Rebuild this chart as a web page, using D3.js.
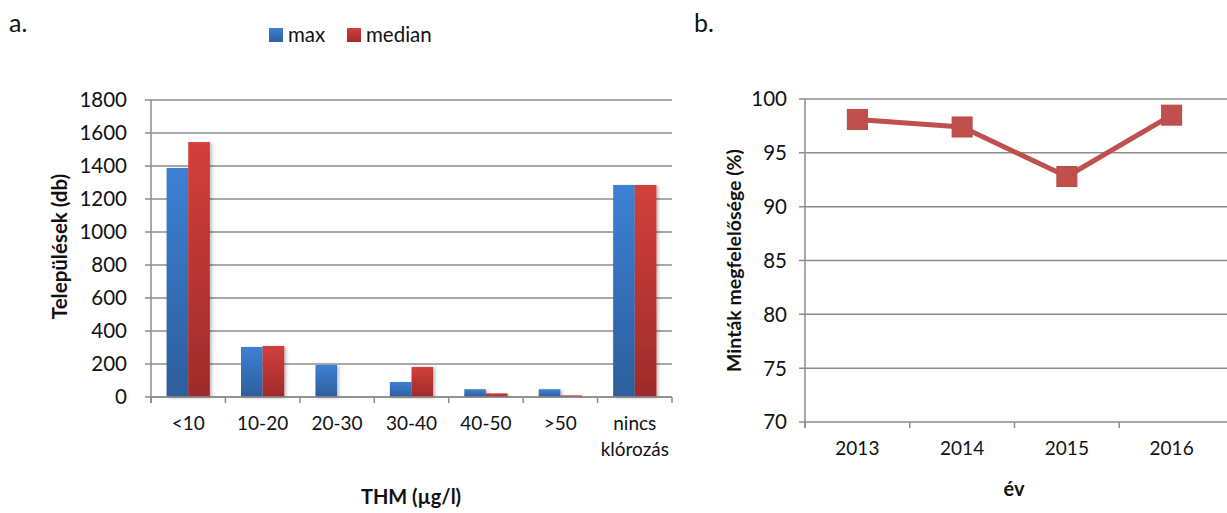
<!DOCTYPE html>
<html>
<head>
<meta charset="utf-8">
<script src="https://cdn.jsdelivr.net/npm/d3@7"></script>
<style>
  html, body { margin: 0; padding: 0; background: #fff; }
  svg { display: block; font-family: Lato, "Open Sans", sans-serif; }
</style>
</head>
<body>
<svg id="chart" width="1227" height="513"></svg>
<script>
// Panel a: settlements by THM concentration class
const thmCategories = ["<10", "10-20", "20-30", "30-40", "40-50", ">50", "nincs klórozás"];
const maxValues     = [1388, 303, 194, 91, 47, 47, 1285];
const medianValues  = [1545, 309, 0, 182, 22, 10, 1285];
const seriesNames   = ["max", "median"];
const countTicks    = [0, 200, 400, 600, 800, 1000, 1200, 1400, 1600, 1800];

// Panel b: sample compliance by year
const years        = ["2013", "2014", "2015", "2016"];
const compliance   = [98.1, 97.4, 92.8, 98.5];
const percentTicks = [70, 75, 80, 85, 90, 95, 100];

const svg = d3.select("#chart");
const gridColor = "#8c8c8c";
const textColor = "#111";

const defs = svg.append("defs");
function vGrad(id, top, bottom) {
  const g = defs.append("linearGradient").attr("id", id)
    .attr("x1", 0).attr("y1", 0).attr("x2", 0).attr("y2", 1);
  g.append("stop").attr("offset", "0%").attr("stop-color", top);
  g.append("stop").attr("offset", "100%").attr("stop-color", bottom);
}
vGrad("gradMax", "#3d80d4", "#2d5e9c");
vGrad("gradMedian", "#d23f3c", "#9e2b2a");
const shadow = defs.append("filter").attr("id", "barShadow")
  .attr("x", "-20%").attr("y", "-5%").attr("width", "150%").attr("height", "115%");
shadow.append("feDropShadow").attr("dx", 2).attr("dy", 1).attr("stdDeviation", 1.5)
  .attr("flood-color", "#000").attr("flood-opacity", 0.25);

// ---------- Panel a ----------
const a = { left: 151, right: 672, top: 100, bottom: 397 };
const xA = d3.scaleBand().domain(thmCategories).range([a.left, a.right]);
const xInner = d3.scaleBand().domain(seriesNames)
  .range([0, xA.bandwidth()]).paddingOuter(0.72).paddingInner(0);
const yA = d3.scaleLinear().domain([0, 1800]).range([a.bottom, a.top]);

const gA = svg.append("g");
// gridlines
gA.append("g").selectAll("line").data(countTicks).join("line")
  .attr("x1", a.left - 6).attr("x2", a.right)
  .attr("y1", d => yA(d)).attr("y2", d => yA(d))
  .attr("stroke", gridColor).attr("stroke-width", 1.5);

// y axis labels
gA.append("g").selectAll("text").data(countTicks).join("text")
  .attr("x", a.left - 24).attr("y", d => yA(d))
  .attr("dy", "0.36em").attr("text-anchor", "end")
  .attr("font-size", 20.5).attr("fill", textColor)
  .text(d => d);

// bars
const barData = thmCategories.flatMap((c, i) => [
  { cat: c, key: "max", value: maxValues[i] },
  { cat: c, key: "median", value: medianValues[i] }
]).filter(d => d.value > 0);
gA.append("g").selectAll("rect").data(barData).join("rect")
  .attr("x", d => xA(d.cat) + xInner(d.key))
  .attr("width", xInner.bandwidth())
  .attr("y", d => yA(d.value))
  .attr("height", d => yA(0) - yA(d.value))
  .attr("fill", d => d.key === "max" ? "url(#gradMax)" : "url(#gradMedian)")
  .attr("filter", "url(#barShadow)");

// axis lines and ticks
gA.append("line").attr("x1", a.left).attr("x2", a.left)
  .attr("y1", a.top).attr("y2", a.bottom + 6)
  .attr("stroke", gridColor).attr("stroke-width", 1.5);
gA.append("line").attr("x1", a.left).attr("x2", a.right)
  .attr("y1", a.bottom).attr("y2", a.bottom)
  .attr("stroke", gridColor).attr("stroke-width", 1.5);
const bandEdgesA = thmCategories.map(c => xA(c)).concat([a.right]);
gA.append("g").selectAll("line").data(bandEdgesA).join("line")
  .attr("x1", d => d).attr("x2", d => d)
  .attr("y1", a.bottom).attr("y2", a.bottom + 6)
  .attr("stroke", gridColor).attr("stroke-width", 1.5);

// category labels (wrapped)
gA.append("g").selectAll("text").data(thmCategories).join("text")
  .attr("x", d => xA(d) + xA.bandwidth() / 2)
  .attr("y", 430)
  .attr("text-anchor", "middle").attr("font-size", 19).attr("fill", textColor)
  .each(function(d) {
    const words = d.split(" ");
    const t = d3.select(this);
    words.forEach((w, i) => {
      t.append("tspan").attr("x", xA(d) + xA.bandwidth() / 2)
        .attr("dy", i === 0 ? 0 : 26).text(w);
    });
  });

// titles
gA.append("text").attr("transform", `translate(67,${(a.top + a.bottom) / 2 - 2}) rotate(-90)`)
  .attr("text-anchor", "middle").attr("font-size", 20.5).attr("font-weight", "bold")
  .attr("fill", textColor).text("Települések (db)");
gA.append("text").attr("x", 411).attr("y", 504)
  .attr("text-anchor", "middle").attr("font-size", 20).attr("font-weight", "bold")
  .attr("fill", textColor).text("THM (µg/l)");
svg.append("text").attr("x", 9).attr("y", 32).attr("font-size", 25)
  .attr("fill", textColor).text("a.");

// legend
const legend = svg.append("g");
const legendItems = [
  { name: seriesNames[0], fill: "url(#gradMax)", x: 269 },
  { name: seriesNames[1], fill: "url(#gradMedian)", x: 347 }
];
legend.selectAll("rect").data(legendItems).join("rect")
  .attr("x", d => d.x).attr("y", 28).attr("width", 14).attr("height", 14)
  .attr("fill", d => d.fill);
legend.selectAll("text").data(legendItems).join("text")
  .attr("x", d => d.x + 19).attr("y", 42)
  .attr("font-size", 20.5).attr("fill", textColor).text(d => d.name);

// ---------- Panel b ----------
const b = { left: 805, right: 1224, top: 99, bottom: 422 };
const xB = d3.scaleBand().domain(years).range([b.left, b.right]);
const yB = d3.scaleLinear().domain([70, 100]).range([b.bottom, b.top]);
const gB = svg.append("g");

gB.append("g").selectAll("line").data(percentTicks).join("line")
  .attr("x1", b.left - 6).attr("x2", 1227)
  .attr("y1", d => yB(d)).attr("y2", d => yB(d))
  .attr("stroke", gridColor).attr("stroke-width", 1.5);
gB.append("g").selectAll("text").data(percentTicks).join("text")
  .attr("x", b.left - 18).attr("y", d => yB(d))
  .attr("dy", "0.36em").attr("text-anchor", "end")
  .attr("font-size", 20.5).attr("fill", textColor).text(d => d);

gB.append("line").attr("x1", b.left).attr("x2", b.left)
  .attr("y1", b.top).attr("y2", b.bottom + 6)
  .attr("stroke", gridColor).attr("stroke-width", 1.5);
const bandEdgesB = years.map(y => xB(y));
gB.append("g").selectAll("line").data(bandEdgesB).join("line")
  .attr("x1", d => d).attr("x2", d => d)
  .attr("y1", b.bottom).attr("y2", b.bottom + 6)
  .attr("stroke", gridColor).attr("stroke-width", 1.5);

gB.append("g").selectAll("text").data(years).join("text")
  .attr("x", d => xB(d) + xB.bandwidth() / 2).attr("y", 455)
  .attr("text-anchor", "middle").attr("font-size", 19).attr("fill", textColor)
  .text(d => d);

const pts = years.map((y, i) => ({ year: y, value: compliance[i] }));
const line = d3.line()
  .x(d => xB(d.year) + xB.bandwidth() / 2)
  .y(d => yB(d.value));
gB.append("path").datum(pts).attr("d", line)
  .attr("fill", "none").attr("stroke", "#c0504d").attr("stroke-width", 5)
  .attr("stroke-linejoin", "round");
const m = 20;
gB.append("g").selectAll("rect").data(pts).join("rect")
  .attr("x", d => xB(d.year) + xB.bandwidth() / 2 - m / 2)
  .attr("y", d => yB(d.value) - m / 2)
  .attr("width", m).attr("height", m)
  .attr("fill", "#c0504d").attr("stroke", "#b84a47").attr("stroke-width", 1);

gB.append("text").attr("transform", `translate(741,${(b.top + b.bottom) / 2}) rotate(-90)`)
  .attr("text-anchor", "middle").attr("font-size", 19.5).attr("font-weight", "bold")
  .attr("fill", textColor).text("Minták megfelelősége (%)");
gB.append("text").attr("x", 1014).attr("y", 496)
  .attr("text-anchor", "middle").attr("font-size", 20).attr("font-weight", "bold")
  .attr("fill", textColor).text("év");
svg.append("text").attr("x", 694).attr("y", 32).attr("font-size", 25)
  .attr("fill", textColor).text("b.");
</script>
</body>
</html>
